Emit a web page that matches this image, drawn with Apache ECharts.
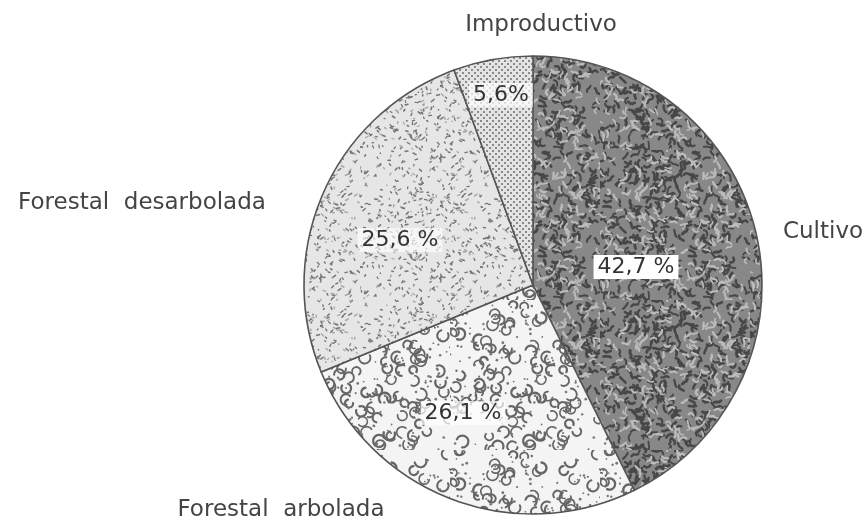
<!DOCTYPE html>
<html>
<head>
<meta charset="utf-8">
<script src="https://cdn.jsdelivr.net/npm/echarts@6/dist/echarts.min.js"></script>
<style>
  html, body { margin: 0; padding: 0; background: #fff; }
  #chart { width: 867px; height: 525px; }
</style>
</head>
<body>
<div id="chart"></div>
<script>
// datos (porcentaje de superficie)
const categories = ['Cultivo', 'Forestal  arbolada', 'Forestal  desarbolada', 'Improductivo']
const values = [42.7, 26.1, 25.6, 5.6]
const pctLabels = ['42,7 %', '26,1 %', '25,6 %', '5,6%']

// posiciones de las etiquetas (solo texto)
const pctPos = [[636, 267], [463, 413], [400, 240], [501, 95]]
const namePos = [[823, 232], [281, 510], [142, 203], [541, 25]]

// generador pseudoaleatorio con semilla, solo para las texturas
function rng(seed) {
  let s = seed
  return () => {
    s = (s * 1664525 + 1013904223) % 4294967296
    return s / 4294967296
  }
}

function makeCanvas(w, h, bg) {
  const c = document.createElement('canvas')
  c.width = w; c.height = h
  const ctx = c.getContext('2d')
  ctx.fillStyle = bg
  ctx.fillRect(0, 0, w, h)
  return [c, ctx]
}

function worm(ctx, r, x, y, len) {
  ctx.beginPath()
  ctx.moveTo(x, y)
  let a = r() * Math.PI * 2
  for (let k = 0; k < 3; k++) {
    a += (r() - 0.5) * 2.2
    x += Math.cos(a) * len
    y += Math.sin(a) * len
    ctx.lineTo(x, y)
  }
  ctx.stroke()
}

// Cultivo: gusanillos oscuros sobre gris
function texCultivo() {
  const [c, ctx] = makeCanvas(150, 150, '#888')
  const r = rng(7)
  ctx.lineCap = 'round'
  ctx.lineJoin = 'round'
  for (let i = 0; i < 380; i++) {
    ctx.strokeStyle = '#474747'
    ctx.lineWidth = 1.8 + r() * 1.2
    worm(ctx, r, r() * 150, r() * 150, 2.5)
  }
  for (let i = 0; i < 220; i++) {
    ctx.strokeStyle = '#bcbcbc'
    ctx.lineWidth = 1.4 + r()
    worm(ctx, r, r() * 150, r() * 150, 2.2)
  }
  return c
}

// Forestal arbolada: arcos en forma de C
function texArbolada() {
  const [c, ctx] = makeCanvas(150, 150, '#f4f4f4')
  const r = rng(11)
  ctx.strokeStyle = '#666'
  ctx.lineCap = 'round'
  for (let i = 0; i < 110; i++) {
    const x = r() * 150, y = r() * 150
    const a = r() * Math.PI * 2
    ctx.lineWidth = 1.6 + r() * 0.8
    ctx.beginPath()
    ctx.arc(x, y, 3.5 + r() * 2.5, a, a + Math.PI * (1.0 + r() * 0.7))
    ctx.stroke()
  }
  ctx.fillStyle = '#777'
  for (let i = 0; i < 160; i++) {
    ctx.beginPath()
    ctx.arc(r() * 150, r() * 150, 0.8 + r() * 0.6, 0, Math.PI * 2)
    ctx.fill()
  }
  return c
}

// Forestal desarbolada: trazos finos claros
function texDesarbolada() {
  const [c, ctx] = makeCanvas(120, 120, '#e6e6e6')
  const r = rng(23)
  ctx.lineCap = 'round'
  for (let i = 0; i < 420; i++) {
    const x = r() * 120, y = r() * 120
    ctx.strokeStyle = r() < 0.7 ? '#767676' : '#aaa'
    ctx.lineWidth = 1.2 + r() * 0.5
    ctx.beginPath()
    ctx.moveTo(x, y)
    ctx.lineTo(x + (r() - 0.5) * 6, y + (r() - 0.5) * 5)
    ctx.stroke()
  }
  return c
}

// Improductivo: trama de puntos
function texImproductivo() {
  const [c, ctx] = makeCanvas(6, 6, '#e4e4e4')
  ctx.fillStyle = '#8a8a8a'
  ctx.fillRect(0, 0, 2, 2)
  ctx.fillRect(3, 3, 2, 2)
  return c
}

const textures = [texCultivo(), texArbolada(), texDesarbolada(), texImproductivo()]
const pctBg = ['#ffffff', 'rgba(255,255,255,0.7)', 'rgba(255,255,255,0.65)', 'rgba(255,255,255,0.7)']

const chart = echarts.init(document.getElementById('chart'))

const fontFamily = '"DejaVu Sans", sans-serif'

const option = {
  animation: false,
  series: [
    {
      type: 'pie',
      center: [533, 285],
      radius: [0, 229],
      startAngle: 90,
      clockwise: true,
      silent: true,
      data: categories.map((name, i) => ({
        name,
        value: values[i],
        itemStyle: { color: { image: textures[i], repeat: 'repeat' } },
        label: { backgroundColor: pctBg[i], fontSize: 22 }
      })),
      itemStyle: { borderColor: '#555', borderWidth: 1.6 },
      label: {
        show: true,
        position: 'inside',
        formatter: (p) => pctLabels[p.dataIndex],
        color: '#333',
        fontSize: 22,
        fontFamily,
        padding: [1, 4]
      },
      labelLine: { show: false },
      labelLayout: (p) => ({
        x: pctPos[p.dataIndex][0],
        y: pctPos[p.dataIndex][1],
        align: 'center',
        verticalAlign: 'middle'
      })
    },
    {
      type: 'pie',
      center: [533, 285],
      radius: [0, 229],
      startAngle: 90,
      silent: true,
      data: categories.map((name, i) => ({ name, value: values[i] })),
      itemStyle: { color: 'transparent', borderWidth: 0 },
      label: {
        show: true,
        position: 'outside',
        formatter: '{b}',
        color: '#444',
        fontSize: 23,
        fontFamily,
        overflow: 'none'
      },
      labelLine: { show: false },
      labelLayout: (p) => ({
        x: namePos[p.dataIndex][0],
        y: namePos[p.dataIndex][1],
        align: 'center',
        verticalAlign: 'middle'
      })
    }
  ]
}

chart.setOption(option)
</script>
</body>
</html>
